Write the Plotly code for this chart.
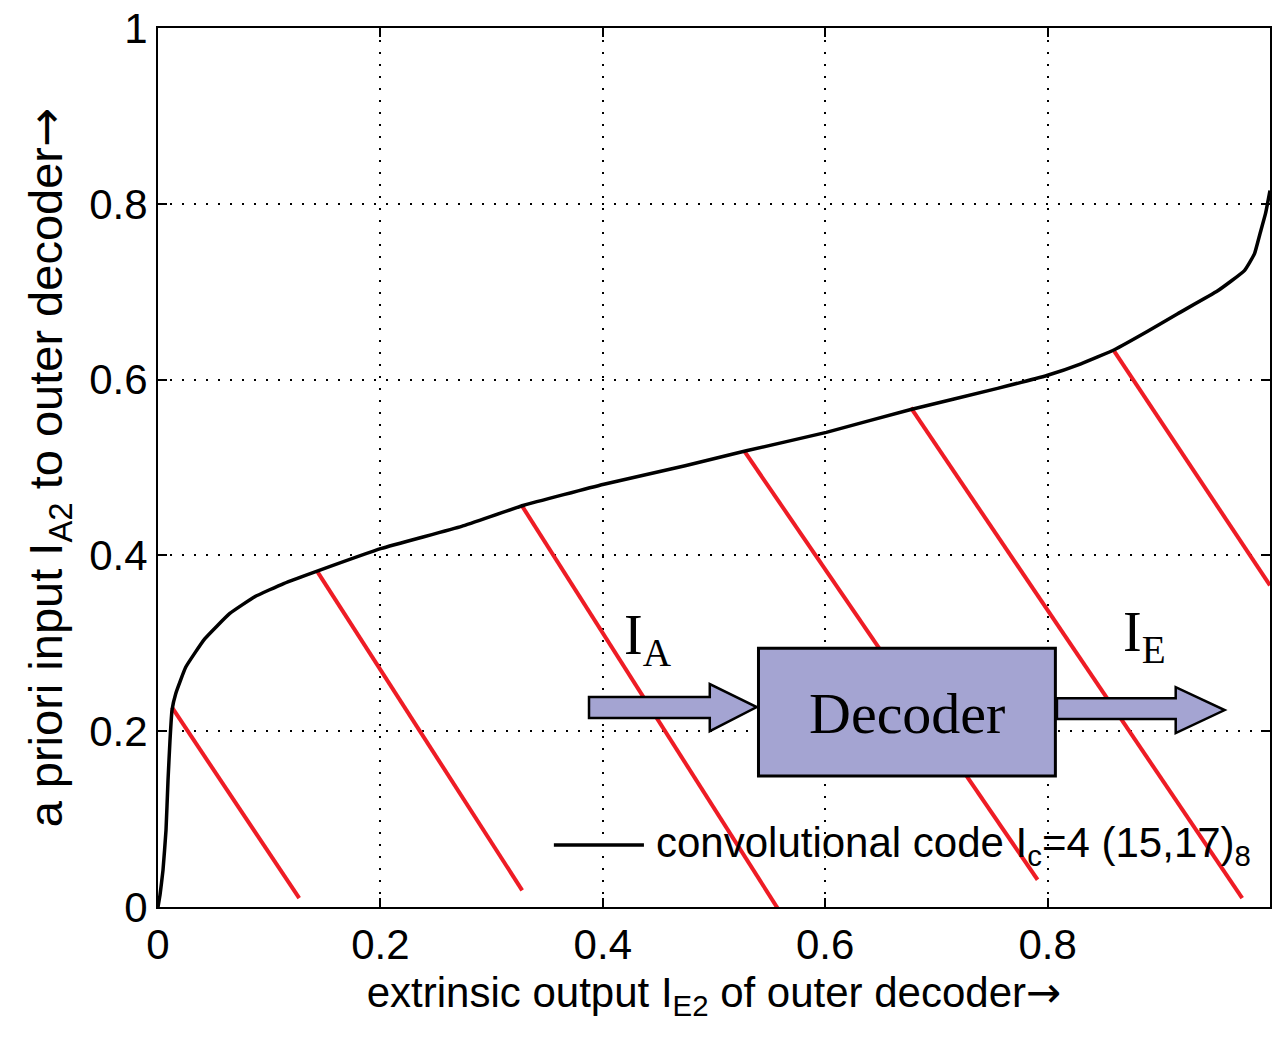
import plotly.graph_objects as go

# EXIT curve of the outer decoder
ie2 = [0.0, 0.0018, 0.0045, 0.0072, 0.009, 0.0108, 0.0126, 0.016, 0.025, 0.042,
       0.0646, 0.087, 0.113, 0.145, 0.201, 0.273, 0.329, 0.401, 0.474, 0.529, 0.601,
       0.677, 0.755, 0.800, 0.830, 0.860, 0.890, 0.917, 0.953, 0.977, 0.986, 0.991,
       0.996, 1.0]
ia2 = [0.0, 0.0136, 0.042, 0.0875, 0.144, 0.19, 0.224, 0.243, 0.273, 0.305,
       0.334, 0.353, 0.368, 0.383, 0.408, 0.433, 0.457, 0.481, 0.502, 0.519, 0.540,
       0.566, 0.590, 0.605, 0.618, 0.634, 0.655, 0.675, 0.701, 0.724, 0.743, 0.766,
       0.789, 0.815]

# red decoding-trajectory style lines (start / end points)
red_x0 = [0.0126, 0.1436, 0.3275, 0.5276, 0.677, 0.860]
red_y0 = [0.227, 0.381, 0.456, 0.518, 0.568, 0.632]
red_x1 = [0.127, 0.3275, 0.560, 0.791, 0.975, 1.0]
red_y1 = [0.010, 0.019, -0.007, 0.031, 0.010, 0.366]

tick_vals = [0, 0.2, 0.4, 0.6, 0.8, 1]
tick_text = ["0", "0.2", "0.4", "0.6", "0.8", "1"]

ARROW = '<span style="font-family:DejaVu Sans">→</span>'
legend_name = "convolutional code I<sub>c</sub>=4 (15,17)<sub>8</sub>"
x_title = "extrinsic output I<sub>E2</sub> of outer decoder" + ARROW
y_title = "a priori input I<sub>A2</sub> to outer decoder" + ARROW

FONT = "Liberation Sans, Arial, sans-serif"
SERIF = "Liberation Serif, Times New Roman, serif"

fig = go.Figure()

for i in range(len(red_x0)):
    fig.add_trace(go.Scatter(
        x=[red_x0[i], red_x1[i]], y=[red_y0[i], red_y1[i]],
        mode="lines", line=dict(color="#EE1C25", width=4),
        showlegend=False, hoverinfo="skip"))

fig.add_trace(go.Scatter(
    x=ie2, y=ia2, mode="lines", name=legend_name, showlegend=False,
    line=dict(color="black", width=3.5, shape="spline", smoothing=0.35)))

# legend sample line + label (drawn like the original MATLAB legend)
fig.add_shape(type="line", x0=0.356, x1=0.437, y0=0.0705, y1=0.0705,
              xref="x", yref="y", line=dict(color="black", width=3.5))
fig.add_annotation(x=0.446, y=0.0705, xref="x", yref="y", text=legend_name,
                   xanchor="left", yanchor="middle", showarrow=False,
                   font=dict(family=FONT, size=42, color="black"))

# Decoder block diagram
lav = "#A4A4D2"
fig.add_shape(type="path",
              path="M 0.3876 0.2388 L 0.4962 0.2388 L 0.4962 0.2536 L 0.5384 0.2274 "
                   "L 0.4962 0.2001 L 0.4962 0.2149 L 0.3876 0.2149 Z",
              xref="x", yref="y", fillcolor=lav, line=dict(color="black", width=2.5))
fig.add_shape(type="path",
              path="M 0.8084 0.2376 L 0.9152 0.2376 L 0.9152 0.2501 L 0.9592 0.224 "
                   "L 0.9152 0.1978 L 0.9152 0.2138 L 0.8084 0.2138 Z",
              xref="x", yref="y", fillcolor=lav, line=dict(color="black", width=2.5))
fig.add_shape(type="rect", x0=0.540, x1=0.807, y0=0.149, y1=0.2945,
              xref="x", yref="y", fillcolor=lav, line=dict(color="black", width=3))

fig.add_annotation(x=0.674, y=0.220, xref="x", yref="y", text="Decoder",
                   showarrow=False, font=dict(family=SERIF, size=58, color="black"))
fig.add_annotation(x=0.441, y=0.305, xref="x", yref="y", text="I<sub>A</sub>",
                   showarrow=False, font=dict(family=SERIF, size=56, color="black"))
fig.add_annotation(x=0.887, y=0.308, xref="x", yref="y", text="I<sub>E</sub>",
                   showarrow=False, font=dict(family=SERIF, size=56, color="black"))

axis_common = dict(
    range=[0, 1], tickvals=tick_vals, ticktext=tick_text,
    showline=True, linecolor="black", linewidth=2, mirror="ticks",
    ticks="inside", ticklen=9, tickwidth=2, tickcolor="black",
    showgrid=True, gridcolor="black", gridwidth=2, griddash="2px,10px",
    zeroline=False, tickfont=dict(family=FONT, size=42, color="black"),
)

fig.update_layout(
    width=1272, height=1037,
    margin=dict(l=158, r=0, t=28, b=130),
    paper_bgcolor="white", plot_bgcolor="white",
    font=dict(family=FONT, color="black"),
    xaxis=dict(**axis_common, ticklabelstandoff=0,
               title=dict(text=x_title, font=dict(family=FONT, size=42), standoff=10)),
    yaxis=dict(**axis_common, ticklabelstandoff=0,
               title=dict(text=y_title, font=dict(family=FONT, size=47), standoff=12)),
    showlegend=False,
)

fig.write_html("out.html")
